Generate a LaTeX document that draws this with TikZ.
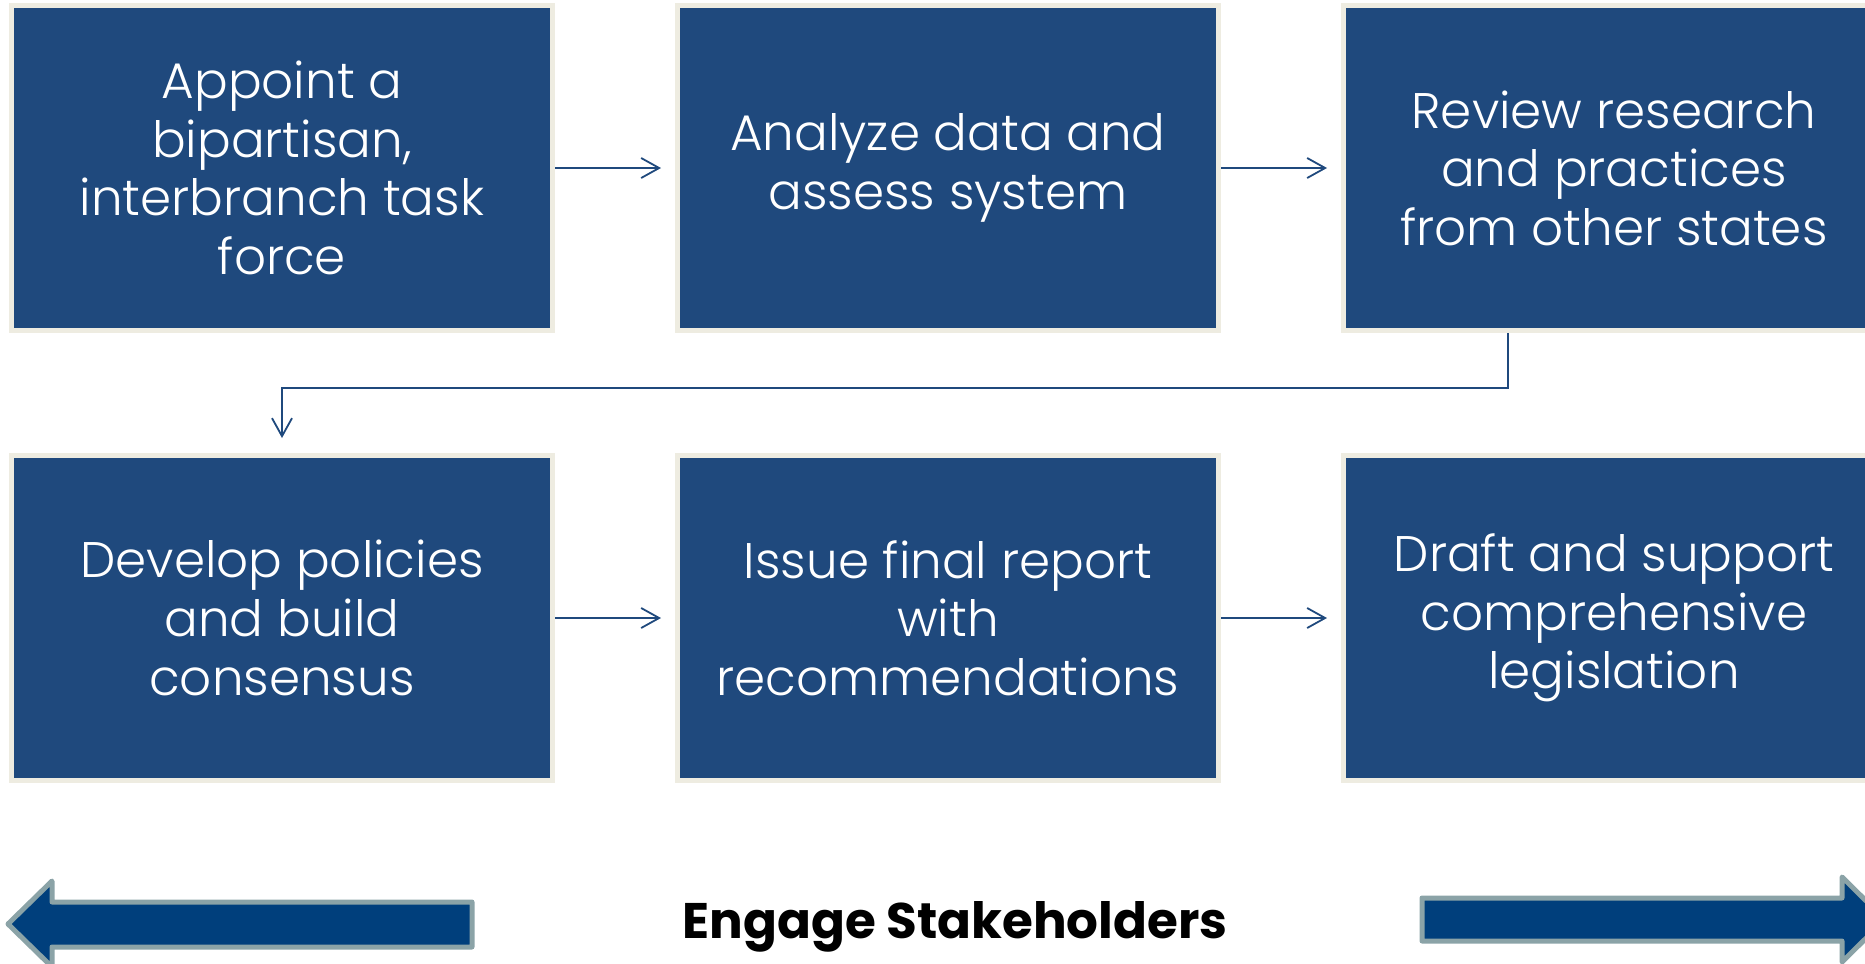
\documentclass[tikz,border=0pt]{standalone}
\usepackage{fontspec}
\setmainfont{Poppins}[UprightFont=* Light, BoldFont=* Bold]
\usepackage{tikz}
\usetikzlibrary{arrows.meta,positioning}

\definecolor{boxblue}{HTML}{1F497D}
\definecolor{boxrim}{HTML}{EEECE1}
\definecolor{arrowblue}{HTML}{003F7C}
\definecolor{arrowrim}{HTML}{8BA3A7}

\begin{document}
\begin{tikzpicture}[x=0.5pt, y=-0.5pt]
\tikzstyle{task}=[draw=boxrim, fill=boxblue, line width=2.5pt, shape=rectangle, minimum width=270.5pt, minimum height=162.5pt, inner sep=0pt, text=white, align=center, font=\fontsize{25}{29.3}\selectfont]
\tikzstyle{flow}=[draw=boxblue, line width=0.9pt, -{Straight Barb[length=9pt,width=10pt]}, shorten >=7pt]
\tikzstyle{bigarrow}=[draw=arrowrim, fill=arrowblue, line width=2.5pt, line join=round]
\useasboundingbox (0,0) rectangle (1865,964);
\node[task] (1) at (282,168) {Appoint a\\bipartisan,\\interbranch task\\force};
\node[task] (2) [right=60pt of 1] {Analyze data and\\assess system};
\node[task] (3) [right=60pt of 2] {Review research\\and practices\\from other states};
\node[task] (4) [below=60pt of 1] {Develop policies\\and build\\consensus};
\node[task] (5) [right=60pt of 4] {Issue final report\\with\\recommendations};
\node[task] (6) [right=60pt of 5] {Draft and support\\comprehensive\\legislation};
\node (7) [anchor=base, font=\fontsize{25}{30}\selectfont\bfseries] at (955,938) {Engage Stakeholders};

\draw[flow] (1.east) -- (2.west);
\draw[flow] (2.east) -- (3.west);
\draw[flow, shorten >=7.5pt] ([xshift=-53pt]3.south) -- ++(0,-27.5pt) -| (4.north);
\draw[flow] (4.east) -- (5.west);
\draw[flow] (5.east) -- (6.west);

\draw[bigarrow] (8,924) -- (52,881) -- (52,902) -- (472,902) -- (472,947) -- (52,947) -- (52,967) -- cycle;
\draw[bigarrow] (1422,898) -- (1842,898) -- (1842,877) -- (1885,919.5) -- (1842,962) -- (1842,941) -- (1422,941) -- cycle;

\end{tikzpicture}
\end{document}
